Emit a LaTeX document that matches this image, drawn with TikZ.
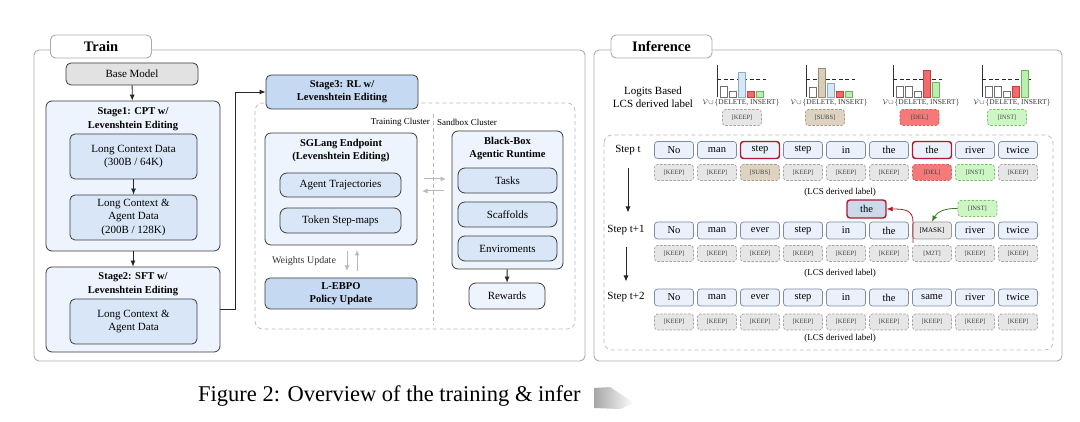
\documentclass[tikz,border=0pt]{standalone}
\usepackage{fontspec}
\setmainfont{Liberation Serif}
\usetikzlibrary{arrows.meta,calc}
\definecolor{boxD}{HTML}{3C3C3C}
\definecolor{stageF}{HTML}{EEF4FD}
\definecolor{innerF}{HTML}{D8E6F7}
\definecolor{darkF}{HTML}{C5D9F3}
\definecolor{baseF}{HTML}{E2E2E2}
\definecolor{tokF}{HTML}{EAF1FB}
\definecolor{tokD}{HTML}{7D8BA0}
\definecolor{keepF}{HTML}{E6E6E6}
\definecolor{keepD}{HTML}{A6A6A6}
\definecolor{subsF}{HTML}{DDD3C0}
\definecolor{subsD}{HTML}{A89E88}
\definecolor{delF}{HTML}{F47A7A}
\definecolor{delD}{HTML}{E05A5A}
\definecolor{instF}{HTML}{CCF7C4}
\definecolor{instD}{HTML}{7CC070}
\definecolor{redB}{HTML}{B0182C}
\definecolor{greenA}{HTML}{3A7A2A}
\definecolor{floatF}{HTML}{CBD9EA}
\definecolor{barB}{HTML}{D4E8F6}
\definecolor{barBD}{HTML}{8AAAC8}
\definecolor{barT}{HTML}{D8CDB6}
\definecolor{barTD}{HTML}{9A8C70}
\definecolor{barR}{HTML}{F46A6A}
\definecolor{barRD}{HTML}{C04040}
\definecolor{barG}{HTML}{B8F0B0}
\definecolor{barGD}{HTML}{70B060}
\definecolor{barW}{HTML}{FFFFFF}
\definecolor{barWD}{HTML}{707070}
\tikzset{
 arr/.style={-{Latex[length=6pt,width=5pt]}, line width=0.8pt, black!85},
 garr/.style={-{Latex[length=5.5pt,width=5pt]}, line width=1pt, gray!55},
 panel/.style={draw=gray!65, line width=0.9pt, rounded corners=5pt},
 tab/.style={draw=gray!65, line width=0.9pt, fill=white, rounded corners=5pt, minimum width=101pt, minimum height=23pt, inner sep=0pt, font=\fontsize{14.5}{16}\selectfont\bfseries},
 stagebox/.style={draw=boxD, line width=0.8pt, fill=stageF, rounded corners=6pt, inner sep=0pt},
 inbox/.style={draw=boxD, line width=0.8pt, fill=innerF, rounded corners=5pt, align=center, inner sep=0pt, font=\fontsize{11}{13.5}\selectfont},
 darkbox/.style={inbox, fill=darkF, font=\fontsize{10.5}{13}\selectfont\bfseries},
 ttl/.style={align=center, inner sep=0pt, font=\fontsize{10.5}{13.5}\selectfont\bfseries},
 small/.style={inner sep=0pt, font=\fontsize{9}{10}\selectfont},
 tok/.style={draw=tokD, fill=tokF, line width=0.7pt, rounded corners=3pt, minimum width=39pt, minimum height=17pt, inner sep=0pt, font=\fontsize{10.5}{12}\selectfont},
 tokred/.style={tok, draw=redB, line width=1.4pt},
 lab/.style={dashed, dash pattern=on 2.5pt off 1.5pt, line width=0.7pt, rounded corners=3pt, minimum width=39pt, minimum height=16pt, inner sep=0pt, font=\fontsize{6.5}{8}\selectfont, text=black!75},
 steplbl/.style={inner sep=0pt, font=\fontsize{11}{13}\selectfont},
 bar/.style={line width=0.6pt},
}
\begin{document}
\begin{tikzpicture}[x=1pt,y=-1pt]
\useasboundingbox (0,0) rectangle (1080,422);
\fill[white] (0,0) rectangle (1080,422);

% ===== Train panel =====
\draw[panel] (34,50) rectangle (585,361);
\node[tab] (traintab) at (101,46.5) {Train};

\node[inbox, fill=baseF, minimum width=132pt, minimum height=22pt] (base) at (132,74) {Base Model};

\node[stagebox, minimum width=174pt, minimum height=150pt] (stage1) at (133,176) {};
\node[ttl] (t1) at (133,119) {Stage1: CPT w/\\Levenshtein Editing};
\node[inbox, minimum width=127pt, minimum height=45pt] (lc1) at (133.5,156.5) {Long Context Data\\(300B / 64K)};
\node[inbox, minimum width=127pt, minimum height=45pt] (lc2) at (133.5,217.5) {Long Context \&\\Agent Data\\(200B / 128K)};

\node[stagebox, minimum width=174pt, minimum height=85pt] (stage2) at (133,309.5) {};
\node[ttl] (t2) at (133,284) {Stage2: SFT w/\\Levenshtein Editing};
\node[inbox, minimum width=127pt, minimum height=45pt] (lc3) at (133.5,321.5) {Long Context \&\\Agent Data};

\draw[arr] (base) -- (stage1);
\draw[arr] (lc1) -- (lc2);
\draw[arr] (stage1) -- (stage2);

% RL region
\draw[dashed, dash pattern=on 4pt off 3pt, gray!55, line width=0.7pt, rounded corners=8pt] (255,103) rectangle (575,329);
\draw[dashed, dash pattern=on 4pt off 3pt, gray!55, line width=0.7pt] (433,114) -- (433,325);
\node[small, anchor=east] (tc) at (430,122) {Training Cluster};
\node[small, anchor=west] (sc) at (437,122) {Sandbox Cluster};

\node[darkbox, minimum width=152pt, minimum height=34pt] (stage3) at (342,92) {Stage3: RL w/\\Levenshtein Editing};
\draw[arr] (stage2.east) -- ++(15,0) |- (stage3.west);

\node[stagebox, minimum width=152pt, minimum height=112pt] (sgl) at (341,189) {};
\node[ttl] (tsgl) at (341,150.5) {SGLang Endpoint\\(Levenshtein Editing)};
\node[inbox, rounded corners=7pt, minimum width=121pt, minimum height=24pt] (traj) at (340.5,185) {Agent Trajectories};
\node[inbox, rounded corners=7pt, minimum width=121pt, minimum height=25pt] (smap) at (340.5,220.5) {Token Step-maps};

\node[darkbox, minimum width=152pt, minimum height=31pt] (lebpo) at (341,293.5) {L-EBPO\\Policy Update};
\node[inner sep=0pt, font=\fontsize{10}{12}\selectfont, text=black!80] (wu) at (304,261) {Weights Update};
\coordinate (wd1) at (347,251);
\coordinate (wd2) at (347,271);
\coordinate (wu1) at (357,271);
\coordinate (wu2) at (357,250);
\draw[garr] (wd1) -- (wd2);
\draw[garr] (wu1) -- (wu2);

\node[stagebox, minimum width=111pt, minimum height=138pt] (bb) at (507.5,200) {};
\node[ttl] (tbb) at (507.5,148.5) {Black-Box\\Agentic Runtime};
\node[inbox, rounded corners=7pt, minimum width=99pt, minimum height=25pt] (tasks) at (507.5,180.5) {Tasks};
\node[inbox, rounded corners=7pt, minimum width=99pt, minimum height=25pt] (scaf) at (507.5,214.5) {Scaffolds};
\node[inbox, rounded corners=7pt, minimum width=99pt, minimum height=25pt] (env) at (507.5,248.5) {Enviroments};
\node[inbox, fill=stageF, rounded corners=7pt, minimum width=76pt, minimum height=26pt] (rew) at (507,296) {Rewards};
\draw[arr] (bb) -- (rew);

\coordinate (ra1) at (424,179);
\coordinate (ra2) at (446,179);
\coordinate (la1) at (444,191);
\coordinate (la2) at (422,191);
\draw[garr] (ra1) -- (ra2);
\draw[garr] (la1) -- (la2);

% ===== Inference panel =====
\draw[panel] (594,50) rectangle (1062,361);
\node[tab] (inftab) at (661.5,46.5) {Inference};

\node[align=center, inner sep=0pt, font=\fontsize{11}{13}\selectfont] (logits) at (653,97.5) {Logits Based\\LCS derived label};

% bar charts
\newcommand{\chartaxis}[1]{%
  \draw[black!80, line width=0.7pt] (#1,65) -- (#1,97);
  \draw[black!85, dashed, dash pattern=on 4pt off 2.5pt, line width=0.8pt] (#1,79) -- (#1+49,79);}
\chartaxis{717}
\chartaxis{806}
\chartaxis{893}
\chartaxis{982}
\foreach \bx/\by/\bc in {720/86/barW,729/91/barW,738/72/barB,747/91/barR,756/91/barG,
  809/87/barW,818/68/barT,827/83/barB,836/91/barR,845/91/barG,
  896/86/barW,905/86/barW,914/91/barW,923/70/barR,932/82/barG,
  985/86/barW,994/86/barW,1003/91/barW,1012/86/barR,1021/70/barG}
  \draw[bar, fill=\bc, draw=\bc D] (\bx,97) rectangle (\bx+7,\by);

\foreach \cx [count=\i] in {741,829,921,1012}
  \node[inner sep=0pt, font=\fontsize{7.4}{9}\selectfont, text=black!80] (vl\i) at (\cx,103) {$\mathcal{V}\!\cup\!\{$DELETE, INSERT$\}$};

\node[lab, fill=keepF, draw=keepD] (kk) at (742,117.5) {[KEEP]};
\node[lab, fill=subsF, draw=subsD] (ks) at (825,117.5) {[SUBS]};
\node[lab, fill=delF, draw=delD] (kd) at (919.5,117.5) {[DEL]};
\node[lab, fill=instF, draw=instD, text=black!70] (ki) at (1007,117.5) {[INST]};

\draw[dashed, dash pattern=on 4pt off 3pt, gray!55, line width=0.7pt, rounded corners=8pt] (604,135) rectangle (1053,350);

% step labels
\node[steplbl] (st0) at (628,150) {Step t};
\node[steplbl] (st1) at (626,230.5) {Step t+1};
\node[steplbl] (st2) at (626,297.5) {Step t+2};
\draw[arr, shorten <=13pt, shorten >=13pt] (st0.south) -- (st0.south |- st1.north);
\draw[arr, shorten <=11pt, shorten >=11pt] (st1.south) -- (st1.south |- st2.north);

% Step t
\foreach \w [count=\i] in {No,man,step,step,in,the,the,river,twice}
  \node[tok] (a\i) at ({674+43*(\i-1)},150) {\w};
\node[tokred] at (a3) {step};
\node[tokred] at (a7) {the};
\foreach \w/\cc [count=\i] in {KEEP/keep,KEEP/keep,SUBS/subs,KEEP/keep,KEEP/keep,KEEP/keep,DEL/del,INST/inst,KEEP/keep}
  \node[lab, fill=\cc F, draw=\cc D] (la\i) at ({674+43*(\i-1)},172.5) {[\w]};
\node[small] (lcs0) at (840,192) {(LCS derived label)};

% Step t+1
\foreach \w/\i in {No/1,man/2,ever/3,step/4,in/5,the/6,river/8,twice/9}
  \node[tok] (b\i) at ({674+43*(\i-1)},230.5) {\w};
\node[tok, fill=keepF, draw=gray!80, font=\fontsize{7}{8}\selectfont] (b7) at (932,230.5) {[MASK]};
\foreach \w/\cc [count=\i] in {KEEP/keep,KEEP/keep,KEEP/keep,KEEP/keep,KEEP/keep,KEEP/keep,M2T/keep,KEEP/keep,KEEP/keep}
  \node[lab, fill=\cc F, draw=\cc D] (lb\i) at ({674+43*(\i-1)},253.5) {[\w]};
\node[small] (lcs1) at (840,273) {(LCS derived label)};

% Step t+2
\foreach \w [count=\i] in {No,man,ever,step,in,the,same,river,twice}
  \node[tok] (c\i) at ({674+43*(\i-1)},297.5) {\w};
\foreach \i in {1,...,9}
  \node[lab, fill=keepF, draw=keepD] (lc\i) at ({674+43*(\i-1)},322) {[KEEP]};
\node[small] (lcs2) at (840,338) {(LCS derived label)};

% floating nodes
\node[tok, fill=floatF, draw=redB, line width=1.4pt, minimum height=18pt] (fthe) at (866.5,209) {the};
\node[lab, fill=instF, draw=instD] (finst) at (977.5,208.5) {[INST]};
\coordinate (redstart) at (913,243);
\draw[-{Latex[length=6pt,width=5pt]}, redB, line width=0.8pt] (redstart) -- (913,222) .. controls (913,210) and (905,209) .. (fthe.east);
\draw[-{Latex[length=6pt,width=5pt]}, greenA, line width=0.8pt] (finst.west) .. controls (945,208) and (937,212) .. (b7.north);

% caption
\node[anchor=base west, inner sep=0pt, font=\fontsize{22.5}{26}\selectfont] (cap) at (198,401) {Figure 2: Overview of the training \& infer};
\shade[left color=gray!70, right color=white] (594,388) -- (610,387) -- (634,403) -- (620,409) -- (594,408) -- cycle;
\end{tikzpicture}
\end{document}
